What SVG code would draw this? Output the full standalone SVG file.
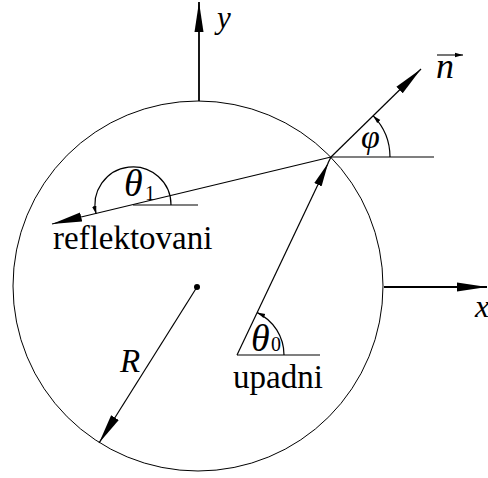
<svg xmlns="http://www.w3.org/2000/svg" width="488" height="478" viewBox="0 0 488 478">
<style>
.ln{fill:none;stroke:#000;stroke-width:1.2}
.ax{fill:none;stroke:#000;stroke-width:1.8}
text{font-family:'Liberation Serif','DejaVu Serif',serif;fill:#000}
.i{font-style:italic}
</style>
<defs>
<marker id="big" markerUnits="userSpaceOnUse" markerWidth="32" markerHeight="12" refX="30" refY="6" orient="auto">
<path d="M0,1.5 L30,6 L0,10.5 Z" fill="#000"/>
</marker>
<marker id="mid" markerUnits="userSpaceOnUse" markerWidth="26" markerHeight="12" refX="24" refY="6" orient="auto">
<path d="M0,2 L24,6 L0,10 Z" fill="#000"/>
</marker>
<marker id="sm" markerUnits="userSpaceOnUse" markerWidth="10" markerHeight="6" refX="8" refY="3" orient="auto">
<path d="M0,0.8 L8,3 L0,5.2 Z" fill="#000"/>
</marker>
</defs>
<g id="circle"><circle cx="198" cy="286" r="185" fill="none" stroke="#000" stroke-width="1"/></g>
<g id="center"><circle cx="197" cy="287" r="3" fill="#000"/></g>
<g id="connectors">
<line class="ax" x1="199" y1="101" x2="199" y2="2" marker-end="url(#big)"/>
<line class="ax" x1="384" y1="287" x2="487" y2="287" marker-end="url(#big)"/>
<line class="ln" x1="331" y1="157" x2="421" y2="69" marker-end="url(#big)"/>
<line class="ln" x1="331" y1="157" x2="434" y2="157"/>
<line class="ln" x1="331" y1="157" x2="52" y2="224" marker-end="url(#big)"/>
<line class="ln" x1="133" y1="205" x2="198" y2="205"/>
<line class="ln" x1="237" y1="355" x2="328.2" y2="163" marker-end="url(#mid)"/>
<line class="ln" x1="328" y1="163" x2="331" y2="157"/>
<line class="ln" x1="237" y1="355" x2="320" y2="355"/>
<line class="ln" x1="197" y1="287" x2="99" y2="443" marker-end="url(#big)"/>
<path class="ln" d="M390,157 A59,59 0 0 0 373.2,115.8" marker-end="url(#sm)" stroke-width="1"/>
<path class="ln" d="M284,355 A47,47 0 0 0 257.2,312.6" marker-end="url(#sm)" stroke-width="1"/>
<path class="ln" d="M171,205 A38,38 0 1 0 96.1,213.9" marker-end="url(#sm)" stroke-width="1"/>
<line x1="437" y1="55" x2="463" y2="55" stroke="#666" stroke-width="1.8" marker-end="url(#sm)"/>
</g>
<g id="labels">
<text class="i" x="217" y="28" font-size="31">y</text>
<text class="i" x="436" y="78" font-size="36">n</text>
<text class="i" x="361" y="148" font-size="34">φ</text>
<text class="i" x="475" y="317" font-size="32">x</text>
<text class="i" x="124" y="196" font-size="38">θ</text>
<text x="145" y="200" font-size="20">1</text>
<text x="53" y="249" font-size="33">reflektovani</text>
<text class="i" x="251" y="351" font-size="38">θ</text>
<text x="271" y="351" font-size="20">0</text>
<text x="233" y="388" font-size="33">upadni</text>
<text class="i" x="120" y="372" font-size="33">R</text>
</g>
</svg>
